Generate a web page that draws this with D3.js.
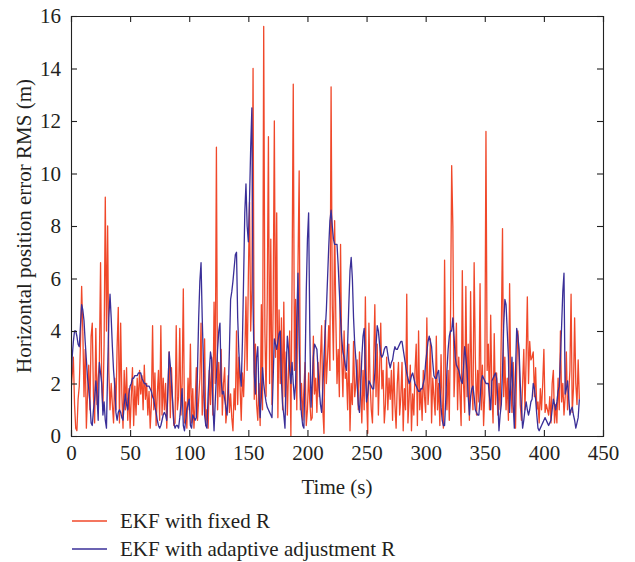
<!DOCTYPE html>
<html><head><meta charset="utf-8">
<script src="https://cdn.jsdelivr.net/npm/d3@7"></script>
<style>body{margin:0;background:#fff}svg{display:block}text{font-family:"Liberation Serif","Times New Roman",serif;fill:#231f20}</style>
</head><body><svg id="c" width="635" height="562"></svg>
<script>
const xTicks=[0,50,100,150,200,250,300,350,400,450];
const yTicks=[0,2,4,6,8,10,12,14,16];
const seriesNames=["EKF with fixed R","EKF with adaptive adjustment R"];
const xLabel="Time (s)";
const yLabel="Horizontal position error RMS (m)";
const fixedR=[
1.7,2.3,3.0,1.2,0.3,0.2,1.4,1.9,3.5,5.7,
4.0,1.5,3.3,0.3,1.6,2.7,1.0,3.8,4.3,1.5,
0.5,4.1,1.2,2.2,2.8,6.6,2.0,1.0,3.5,9.1,
4.0,8.0,2.5,1.0,2.0,1.2,0.5,2.2,1.0,3.4,
4.9,0.5,4.3,1.6,0.3,2.5,1.0,2.6,0.6,1.8,
0.3,1.5,2.6,0.4,1.9,0.8,2.2,1.2,2.5,1.6,
2.3,1.0,2.7,1.4,2.0,0.8,1.7,0.3,1.2,4.2,
1.0,2.4,0.4,1.6,2.5,0.6,4.2,0.8,2.2,1.0,
2.0,0.3,1.8,3.2,0.7,2.6,1.2,0.4,0.5,4.2,
1.0,1.5,4.1,0.8,2.0,5.6,0.5,1.3,0.3,2.2,
1.0,3.5,0.5,1.8,0.3,1.2,2.6,0.6,1.4,2.2,
4.3,0.8,1.6,3.7,0.4,1.0,0.3,2.5,1.2,3.0,
0.8,5.1,2.0,11.0,1.0,2.8,1.5,3.3,0.8,2.0,
2.6,0.5,1.0,2.3,0.9,1.6,0.7,0.2,1.8,1.0,
4.0,1.2,3.0,1.9,0.6,2.4,1.5,3.0,5.3,2.5,
6.0,8.9,4.0,5.6,14.0,1.4,3.5,1.2,0.6,2.0,
0.4,5.0,1.0,15.6,4.0,1.5,5.2,11.4,2.0,7.5,
1.2,5.0,12.0,3.0,8.5,0.7,4.8,2.0,4.5,1.0,
5.1,1.5,3.2,0.8,2.5,4.0,0.0,6.0,13.4,2.5,
5.2,1.0,6.5,10.1,1.0,2.0,0.6,1.8,2.8,0.4,
1.0,2.4,1.3,0.6,0.7,3.8,1.6,2.2,0.9,2.8,
1.5,3.0,4.2,1.0,0.1,4.4,2.0,3.0,4.2,2.5,
13.3,5.0,2.9,8.2,4.5,2.0,3.3,1.5,7.3,3.0,
1.5,4.0,2.2,2.4,1.0,3.5,0.2,2.0,1.2,3.6,
1.5,2.0,2.9,1.0,3.2,1.8,0.5,2.5,1.0,5.3,
1.5,0.1,4.3,2.0,1.0,0.5,2.8,5.0,1.5,3.5,
0.8,2.5,4.3,1.8,2.5,0.5,1.2,3.0,1.0,2.2,
1.4,2.5,0.6,2.8,1.2,0.3,2.0,2.8,0.8,1.5,
2.8,0.2,1.8,1.0,5.4,0.5,1.4,2.7,0.2,1.6,
0.8,2.5,3.5,0.4,4.0,1.0,1.8,0.6,2.5,1.5,
0.9,4.5,1.2,2.0,3.7,0.5,2.2,1.5,0.8,3.8,
1.0,2.0,0.4,3.1,1.2,0.3,6.7,2.0,1.0,2.5,
0.6,4.3,10.3,8.0,1.5,2.8,4.3,1.0,3.0,1.6,
0.4,6.3,2.0,0.9,5.7,1.5,3.5,0.6,5.5,2.0,
1.0,6.6,3.0,0.8,2.5,1.3,5.8,1.0,2.7,0.4,
1.6,11.6,2.5,3.5,1.0,4.6,1.8,0.5,3.9,1.2,
2.4,0.8,2.0,1.0,4.0,7.9,1.5,3.0,1.0,2.2,
0.6,5.8,2.0,0.9,2.8,1.5,0.3,2.6,4.0,3.0,
1.2,0.6,2.0,3.3,1.0,3.0,5.3,2.0,3.6,2.9,
3.0,3.2,1.5,2.6,1.0,1.3,0.5,1.8,1.0,2.0,
3.3,0.9,1.2,1.0,0.8,1.5,0.5,2.0,2.5,0.5,
1.2,0.5,2.2,1.0,4.0,1.3,2.0,0.8,1.5,3.2,
1.0,1.6,2.5,5.4,0.9,1.8,4.5,2.0,1.2,2.9,1.4];
const adaptiveR=[
2.0,3.0,3.6,4.0,4.0,3.8,3.5,3.4,4.2,5.0,
4.8,4.4,3.6,2.9,2.2,1.8,1.3,0.5,0.4,1.0,
1.4,2.1,1.5,0.6,2.8,2.4,2.0,0.8,1.3,0.6,
0.3,2.5,4.5,5.4,4.5,3.4,2.5,1.9,0.9,0.6,
0.9,1.0,0.9,0.7,0.6,1.2,1.6,1.2,1.0,1.6,
1.9,2.0,2.2,2.2,2.3,2.3,2.3,2.4,2.4,2.4,
2.2,2.1,2.0,2.0,1.9,1.9,1.9,1.8,1.7,1.5,
1.4,1.1,0.9,0.6,0.4,0.3,0.4,0.6,0.8,0.9,
0.8,0.6,1.8,3.2,2.7,2.0,1.3,0.5,0.3,0.4,
0.4,0.3,0.7,1.2,1.8,0.4,0.2,0.6,1.0,1.2,
1.4,0.4,0.3,0.8,0.7,0.6,0.7,2.5,4.5,5.9,
6.6,4.5,2.8,0.8,0.4,0.3,1.6,2.5,3.2,2.9,
1.2,0.2,1.3,2.3,3.3,4.0,4.3,2.2,1.6,1.7,
1.4,1.1,0.8,1.6,3.3,5.2,5.5,5.9,6.4,6.9,
7.0,4.5,3.2,2.4,1.9,3.6,6.0,8.5,9.6,8.0,
7.4,9.0,11.0,12.5,5.0,2.4,1.6,3.0,3.4,1.6,
0.7,1.5,2.6,2.0,1.6,1.3,1.1,1.0,0.9,0.8,
0.7,2.2,3.7,3.5,3.3,3.6,3.9,4.0,2.1,1.2,
0.8,0.3,2.5,3.8,3.3,2.5,2.0,2.8,2.0,1.4,
2.0,4.5,6.2,3.5,1.5,0.8,0.4,0.3,2.5,5.5,
7.5,8.5,4.0,1.1,2.0,3.0,3.5,3.4,3.3,2.5,
1.8,1.2,0.9,1.8,3.0,4.0,4.8,6.0,7.2,8.2,
8.6,8.0,7.5,7.3,7.3,7.3,6.5,5.5,4.5,3.7,
3.2,3.0,2.7,2.5,3.5,5.0,6.3,6.8,6.0,4.5,
3.5,2.9,2.0,1.2,0.9,1.8,3.0,3.8,4.1,2.5,
1.3,1.6,2.1,2.0,1.9,1.8,1.8,2.4,3.4,4.2,
4.0,3.5,3.1,3.0,3.1,3.3,3.4,3.4,3.1,2.8,
2.6,2.8,2.9,3.2,3.4,3.3,3.3,3.4,3.5,3.6,
3.6,3.3,3.0,2.7,2.4,2.2,2.0,2.1,2.3,2.4,
2.2,2.0,1.9,1.8,1.7,1.7,1.8,1.8,2.0,2.2,
2.8,3.2,3.6,3.8,3.6,3.4,2.8,2.3,2.2,2.2,
2.4,2.5,1.8,1.1,0.6,0.4,0.4,1.4,2.5,3.3,
3.8,4.0,4.0,4.5,3.8,3.0,2.7,2.6,2.5,2.3,
2.1,2.0,2.6,3.4,3.0,2.5,1.5,0.8,1.5,1.8,
1.9,1.5,1.0,0.9,0.8,0.8,1.4,2.1,2.3,2.2,
2.1,2.0,2.0,2.0,1.5,1.0,2.1,2.2,2.3,2.4,
2.2,1.4,0.2,0.8,1.2,2.5,4.2,5.2,5.0,4.0,
3.0,0.9,2.0,3.0,1.2,0.3,2.5,4.1,3.8,3.3,
2.0,1.1,0.3,0.6,1.0,1.3,1.0,0.8,1.0,1.3,
1.4,2.0,1.8,1.4,0.8,0.3,0.2,0.3,0.4,0.5,
0.6,0.7,0.6,0.5,0.4,0.5,0.6,1.0,1.4,1.2,
1.0,1.3,1.7,1.9,3.0,4.2,5.5,6.2,1.6,1.8,
2.1,1.5,0.8,1.0,1.1,0.8,0.6,0.3,0.5,0.7,1.4];
const colors=["#f0482a","#3a2f98"];

const svg=d3.select("#c");
const L=71,T=16,W=532,H=420;
const x=d3.scaleLinear().domain([0,450]).range([L,L+W]);
const y=d3.scaleLinear().domain([0,16]).range([T+H,T]);

svg.append("defs").append("clipPath").attr("id","clip").append("rect")
  .attr("x",L).attr("y",T).attr("width",W).attr("height",H);

const line=d3.line().x((d,i)=>x(i)).y(d=>y(d));
[fixedR,adaptiveR].forEach((s,k)=>{
  svg.append("path").datum(s).attr("d",line).attr("fill","none")
    .attr("stroke",colors[k]).attr("stroke-width",1.3).attr("stroke-linejoin","round")
    .attr("clip-path","url(#clip)");
});

const fs=21;
const tk=6;
const gx=svg.append("g").attr("transform",`translate(0,${T+H})`)
  .call(d3.axisBottom(x).tickValues(xTicks).tickSize(-tk).tickPadding(9));
const gxt=svg.append("g").attr("transform",`translate(0,${T})`)
  .call(d3.axisTop(x).tickValues(xTicks).tickSize(-tk).tickFormat(""));
const gy=svg.append("g").attr("transform",`translate(${L},0)`)
  .call(d3.axisLeft(y).tickValues(yTicks).tickSize(-tk).tickPadding(10));
const gyr=svg.append("g").attr("transform",`translate(${L+W},0)`)
  .call(d3.axisRight(y).tickValues(yTicks).tickSize(-tk).tickFormat(""));
[gx,gxt,gy,gyr].forEach(g=>{
  g.selectAll(".domain").attr("stroke","#222").attr("stroke-width",1.1);
  g.selectAll(".tick line").attr("stroke","#222").attr("stroke-width",1.1);
  g.selectAll("text").attr("font-family","Liberation Serif, serif").attr("font-size",fs).attr("fill","#231f20");
});

svg.append("text").attr("x",L+W/2).attr("y",494).attr("text-anchor","middle")
  .attr("font-size",fs).text(xLabel);
svg.append("text").attr("transform",`translate(31,${T+H/2}) rotate(-90)`)
  .attr("text-anchor","middle").attr("font-size",fs).text(yLabel);

const lg=[521,549];
seriesNames.forEach((n,k)=>{
  svg.append("line").attr("x1",72).attr("x2",107).attr("y1",lg[k]).attr("y2",lg[k])
    .attr("stroke",colors[k]).attr("stroke-width",1.3);
  svg.append("text").attr("x",120).attr("y",lg[k]+7).attr("font-size",fs).text(n);
});
</script></body></html>
